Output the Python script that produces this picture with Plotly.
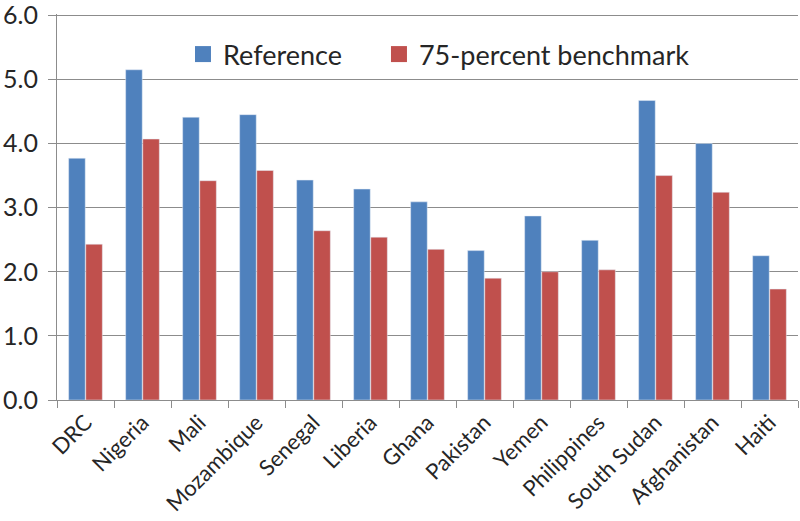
import plotly.graph_objects as go

countries = ["DRC", "Nigeria", "Mali", "Mozambique", "Senegal", "Liberia", "Ghana",
             "Pakistan", "Yemen", "Philippines", "South Sudan", "Afghanistan", "Haiti"]
reference = [3.77, 5.15, 4.41, 4.45, 3.43, 3.29, 3.09, 2.33, 2.87, 2.49, 4.67, 4.00, 2.25]
benchmark = [2.43, 4.07, 3.42, 3.58, 2.64, 2.54, 2.35, 1.90, 2.00, 2.03, 3.50, 3.24, 1.73]
y_ticks = [0, 1, 2, 3, 4, 5, 6]
y_tick_labels = ["0.0", "1.0", "2.0", "3.0", "4.0", "5.0", "6.0"]

BLUE = "#4F81BD"
RED = "#C0504D"
GRID = "#8C8C8C"
TEXT = "#262626"
FONT = "Lato"

fig = go.Figure()
fig.add_trace(go.Bar(x=countries, y=reference, name="Reference", marker_color=BLUE,
                     showlegend=False))
fig.add_trace(go.Bar(x=countries, y=benchmark, name="75-percent benchmark", marker_color=RED,
                     showlegend=False))
# legend proxies with larger square symbols
fig.add_trace(go.Scatter(x=[None], y=[None], mode="markers", name="Reference",
                         marker=dict(symbol="square", size=18, color=BLUE), legend="legend"))
fig.add_trace(go.Scatter(x=[None], y=[None], mode="markers", name="75-percent benchmark",
                         marker=dict(symbol="square", size=18, color=RED), legend="legend2"))

leg_common = dict(orientation="h", yanchor="middle", xanchor="left",
                  bgcolor="rgba(0,0,0,0)", font=dict(size=27, color=TEXT))

fig.update_layout(
    width=800, height=521,
    margin=dict(l=57, r=2, t=14, b=121, autoexpand=False),
    paper_bgcolor="white", plot_bgcolor="white",
    font=dict(family=FONT, size=25, color=TEXT),
    barmode="group", bargap=0.4, bargroupgap=0.03,
    legend=dict(x=0.170, y=0.895, **leg_common),
    legend2=dict(x=0.4345, y=0.895, **leg_common),
)
fig.update_yaxes(range=[0, 6.02], tickvals=y_ticks, ticktext=y_tick_labels,
                 showgrid=True, gridcolor=GRID, gridwidth=1,
                 showline=True, linecolor=GRID, linewidth=1,
                 ticks="outside", ticklen=8, tickcolor=GRID,
                 ticklabelstandoff=5, zeroline=False, automargin=False,
                 ticklabeloverflow="allow",
                 tickfont=dict(size=25))
fig.update_xaxes(type="category", showline=True, linecolor=GRID, linewidth=1,
                 ticks="outside", tickson="boundaries", ticklen=7, tickcolor=GRID,
                 tickangle=-45, tickfont=dict(size=22), ticklabelshift=0,
                 automargin=False, ticklabeloverflow="allow",
                 showgrid=False)

fig.write_html("out.html", config={"displayModeBar": False},
               post_script="document.body.style.margin='0';document.body.style.padding='0';")
